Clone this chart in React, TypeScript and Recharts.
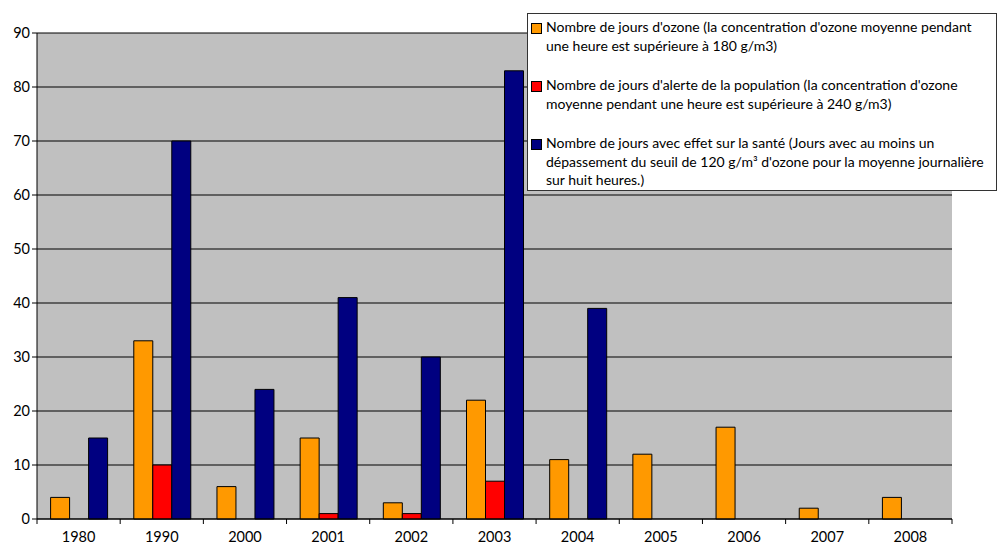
import React from "react";
import { BarChart, Bar, XAxis, YAxis, CartesianGrid } from "recharts";

const years = ["1980", "1990", "2000", "2001", "2002", "2003", "2004", "2005", "2006", "2007", "2008"];
const ozoneDays = [4, 33, 6, 15, 3, 22, 11, 12, 17, 2, 4];
const alertDays = [0, 10, 0, 1, 1, 7, 0, 0, 0, 0, 0];
const healthDays = [15, 70, 24, 41, 30, 83, 39, 0, 0, 0, 0];
const yTicks = [0, 10, 20, 30, 40, 50, 60, 70, 80, 90];

const seriesNames = [
  "Nombre de jours d'ozone (la concentration d'ozone moyenne pendant une heure est supérieure à 180 g/m3)",
  "Nombre de jours d'alerte de la population (la concentration d'ozone moyenne pendant une heure est supérieure à 240 g/m3)",
  "Nombre de jours avec effet sur la santé (Jours avec au moins un dépassement du seuil de 120 g/m³ d'ozone pour la moyenne journalière sur huit heures.)",
];
const colors = ["#FF9900", "#FF0000", "#000080"];

const data = years.map((y, i) => ({
  year: y,
  ozone: ozoneDays[i],
  alert: alertDays[i],
  health: healthDays[i],
}));

const FONT = "Lato, 'Open Sans', sans-serif";
const FS = 14.5;

function XTick(props: any) {
  const { x, y, payload, index, visibleTicksCount } = props;
  const off = payload.offset || 0;
  const isLast = index === (visibleTicksCount ?? years.length) - 1;
  return (
    <g>
      <line x1={x - off} x2={x - off} y1={y - 8} y2={y - 3} stroke="#000" />
      {isLast && <line x1={x + off} x2={x + off} y1={y - 8} y2={y - 3} stroke="#000" />}
      <text x={x} y={y + 15} textAnchor="middle" fontSize={FS} fill="#000" fontFamily={FONT}>
        {payload.value}
      </text>
    </g>
  );
}

// legend drawn as an overlay so it doesn't shrink the plot area
function LegendBox() {
  return (
    <div
      style={{
        position: "absolute",
        left: 527,
        top: 13,
        width: 470,
        height: 178,
        background: "#fff",
        border: "1px solid #333",
        fontFamily: FONT,
        fontSize: 14,
        lineHeight: "18.5px",
        color: "#000",
        boxSizing: "border-box",
        padding: "4px 0 0 3px",
      }}
    >
      {seriesNames.map((name, i) => (
        <div key={i} style={{ display: "flex", marginBottom: 21 }}>
          <div
            style={{
              width: 9,
              height: 9,
              background: colors[i],
              border: "1px solid #000",
              marginTop: 5,
              marginRight: 4,
              flexShrink: 0,
            }}
          />
          <div style={{ textAlign: "left", width: 443, flexShrink: 0 }}>{name}</div>
        </div>
      ))}
    </div>
  );
}

export default function App() {
  return (
    <div style={{ position: "absolute", left: 0, top: 0, width: 997, height: 549, background: "#fff", overflow: "hidden" }}>
      <BarChart
        width={997}
        height={549}
        data={data}
        margin={{ top: 33, right: 45, bottom: 0, left: 0 }}
        barCategoryGap={13.6}
        barGap={0}
      >
        <CartesianGrid vertical={false} stroke="#000" fill="#C0C0C0" fillOpacity={1} />
        <XAxis
          dataKey="year"
          height={30}
          axisLine={{ stroke: "#000" }}
          tickLine={false}
          interval={0}
          tick={<XTick />}
        />
        <YAxis
          width={37}
          domain={[0, 90]}
          ticks={yTicks}
          interval={0}
          axisLine={{ stroke: "#000" }}
          tickLine={{ stroke: "#000" }}
          tickSize={5}
          tick={{ fontSize: FS, fill: "#000", fontFamily: FONT }}
        />
        <YAxis
          yAxisId="right"
          orientation="right"
          width={0}
          domain={[0, 90]}
          tick={false}
          tickLine={false}
          axisLine={{ stroke: "#808080" }}
        />
        <Bar dataKey="ozone" name={seriesNames[0]} fill={colors[0]} stroke="#000" strokeWidth={1} isAnimationActive={false} />
        <Bar dataKey="alert" name={seriesNames[1]} fill={colors[1]} stroke="#000" strokeWidth={1} isAnimationActive={false} />
        <Bar dataKey="health" name={seriesNames[2]} fill={colors[2]} stroke="#000" strokeWidth={1} isAnimationActive={false} />
      </BarChart>
      <LegendBox />
    </div>
  );
}
